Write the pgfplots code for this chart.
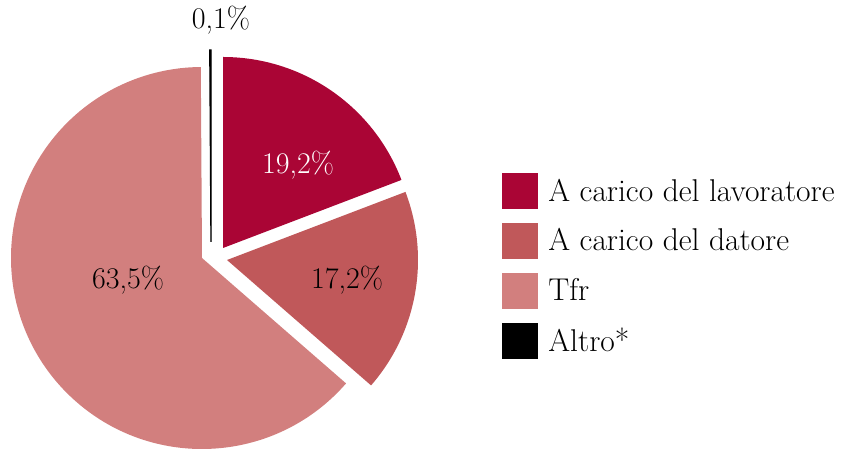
\documentclass[border=0pt]{standalone}
\usepackage{fontspec}
\usepackage{pgfplots}
\pgfplotsset{compat=1.18}
\definecolor{lavcol}{HTML}{AA0535}
\definecolor{datcol}{HTML}{C0585A}
\definecolor{tfrcol}{HTML}{D27F7E}

% shares (%), clockwise from 12 o'clock
\def\vLav{19.2}
\def\vDat{17.2}
\def\vTfr{63.5}
\def\vAlt{0.1}

\begin{document}
\begin{tikzpicture}[font=\fontsize{30}{34}\selectfont]
\pgfmathsetmacro{\aA}{90}
\pgfmathsetmacro{\aB}{\aA-3.6*\vLav}
\pgfmathsetmacro{\aC}{\aB-3.6*\vDat}
\pgfmathsetmacro{\aD}{\aC-3.6*\vTfr}
\pgfmathsetmacro{\aE}{\aD-3.6*\vAlt}
\begin{axis}[
    x=1pt, y=1pt,
    xmin=0, xmax=841, ymin=0, ymax=449,
    hide axis,
    clip bounding box=upper bound,
    legend image code/.code={\fill[#1] (0pt,-17.5pt) rectangle (35pt,17.5pt);},
    legend style={
        at={(axis cs:502,276)}, anchor=north west,
        draw=none, fill=none, inner sep=0pt, outer sep=0pt,
        nodes={inner sep=0pt},
        row sep=14.5pt,
        column sep=11pt,
        font=\fontsize{31.5}{36}\selectfont
    },
    legend cell align=left
]
\path (axis cs:0,0) (axis cs:841,449);
\addlegendimage{lavcol}
\addlegendentry{A carico del lavoratore}
\addlegendimage{datcol}
\addlegendentry{A carico del datore}
\addlegendimage{tfrcol}
\addlegendentry{Tfr}
\addlegendimage{black}
\addlegendentry{Altro*}

% slices (exploded)
\fill[lavcol] (axis cs:223,201) -- ++(\aA:191pt)
    arc[start angle=\aA, end angle=\aB, radius=191pt] -- cycle;
\fill[datcol] (axis cs:227,189) -- ++(\aB:191pt)
    arc[start angle=\aB, end angle=\aC, radius=191pt] -- cycle;
\fill[tfrcol] (axis cs:202,191) -- ++(\aC:191pt)
    arc[start angle=\aC, end angle=\aD, radius=191pt] -- cycle;
\filldraw[black, line width=1.3pt] (axis cs:211,207) -- ++(\aD:192pt)
    arc[start angle=\aD, end angle=\aE, radius=192pt] -- cycle;

% value labels
\node[white] at (axis cs:298,284) {19,2\%};
\node at (axis cs:347,169) {17,2\%};
\node at (axis cs:128,169) {63,5\%};
\node at (axis cs:221,429) {0,1\%};
\end{axis}
\end{tikzpicture}
\end{document}
